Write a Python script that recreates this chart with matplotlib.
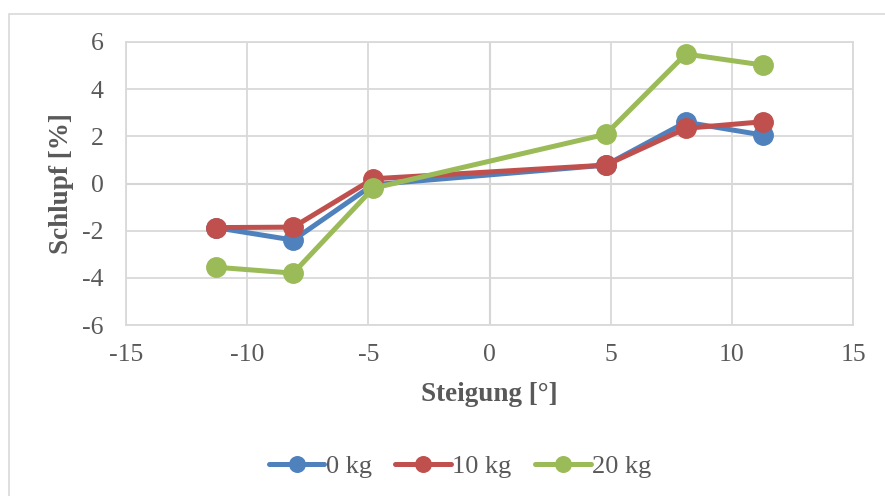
import numpy as np
import matplotlib.pyplot as plt
from matplotlib.patches import Rectangle

# Schlupf in Abhaengigkeit der Steigung
steigung = [-11.3, -8.1, -4.8, 4.8, 8.1, 11.3]
schlupf_0kg = [-1.87, -2.4, -0.05, 0.78, 2.6, 2.05]
schlupf_10kg = [-1.87, -1.85, 0.2, 0.78, 2.34, 2.62]
schlupf_20kg = [-3.55, -3.8, -0.2, 2.09, 5.49, 5.02]
labels = ["0 kg", "10 kg", "20 kg"]
colors = ["#4f81bd", "#c0504d", "#9bbb59"]

plt.rcParams['font.family'] = ['Liberation Serif', 'DejaVu Serif']
plt.rcParams['axes.unicode_minus'] = False
textcol = "#595959"

fig = plt.figure(figsize=(8.85, 4.96), dpi=100)
ax = fig.add_axes([126/885, 1-325/496, (853-126)/885, (325-42)/496])

# chart frame
fig.patches.append(Rectangle((9/885, -0.1), 1.2, 1+0.1-14/496, transform=fig.transFigure,
                             fill=False, edgecolor="#d9d9d9", linewidth=1.2))

for y, lab, c in zip([schlupf_0kg, schlupf_10kg, schlupf_20kg], labels, colors):
    ax.plot(steigung, y, color=c, linewidth=3.6, marker="o", markersize=14,
            label=lab, solid_capstyle="round", zorder=3)

ax.set_xlim(-15, 15)
ax.set_ylim(-6, 6)
ax.set_xticks(np.arange(-15, 16, 5))
ax.set_yticks(np.arange(-6, 7, 2))
ax.grid(True, color="#d9d9d9", linewidth=1.3)
ax.axhline(0, color="#bfbfbf", linewidth=1.5, zorder=1)
ax.axvline(0, color="#bfbfbf", linewidth=1.5, zorder=1)
for s in ax.spines.values():
    s.set_color("#d9d9d9")
    s.set_linewidth(1.3)
ax.tick_params(length=0, labelsize=18.5, colors=textcol)
ax.tick_params(axis="y", pad=16)
ax.tick_params(axis="x", pad=14)

ax.set_xlabel("Steigung [°]", fontsize=19.5, fontweight="bold", color=textcol, labelpad=11)
ax.set_ylabel("Schlupf [%]", fontsize=19.5, fontweight="bold", color=textcol, labelpad=6)

leg = fig.legend(loc="center", bbox_to_anchor=(460/885, 1-466/496), ncol=3, frameon=False,
                 fontsize=19, handlelength=2.1, handletextpad=0.05, columnspacing=0.9,
                 markerscale=0.8, labelcolor=textcol)

fig.savefig("out.png", dpi=100)
